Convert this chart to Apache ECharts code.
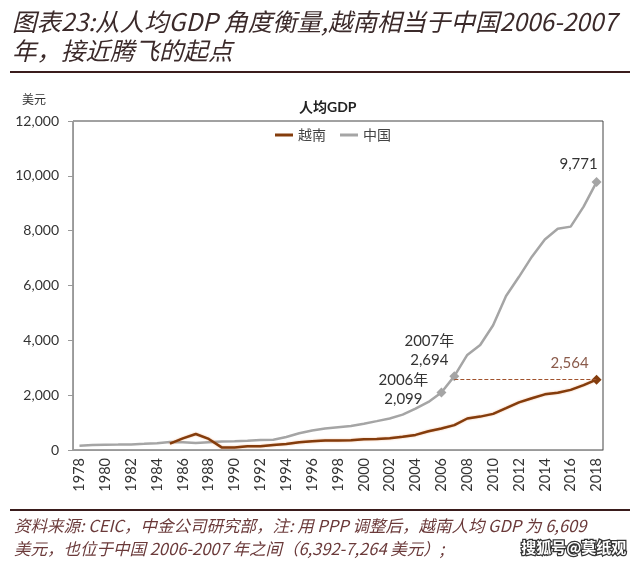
<!DOCTYPE html>
<html>
<head>
<meta charset="utf-8">
<style>
  html, body { margin: 0; padding: 0; background: #fff; }
  #chart { width: 640px; height: 567px; }
</style>
<script src="https://cdn.jsdelivr.net/npm/echarts@6/dist/echarts.min.js"></script>
</head>
<body>
<div id="chart"></div>
<script>
// 人均GDP, 美元
const years = []
for (let y = 1978; y <= 2018; y++) years.push(String(y))

const chinaGdp = [156, 183, 195, 197, 203, 225, 250, 294, 282, 251, 283, 310, 318, 333, 366, 377, 473, 609, 709, 781, 828, 873, 959, 1053, 1149, 1289, 1509, 1753, 2099, 2694, 3468, 3832, 4550, 5618, 6317, 7051, 7679, 8067, 8148, 8879, 9771]
const vietnamGdp = [null, null, null, null, null, null, null, 231, 422, 585, 404, 95, 95, 138, 141, 185, 223, 280, 322, 346, 348, 353, 390, 405, 431, 482, 550, 683, 784, 906, 1149, 1218, 1318, 1525, 1735, 1887, 2030, 2085, 2192, 2366, 2564]
const yTicks = [0, 2000, 4000, 6000, 8000, 10000, 12000]

const brown = '#843c0c'
const gray = '#a5a5a5'
const font = 'Lato, "Noto Sans CJK SC", sans-serif'

const chinaMarked = { '2006': [-38, -3], '2007': [-25, -25], '2018': [-18, -18] }

const chart = echarts.init(document.getElementById('chart'))
chart.setOption({
  animation: false,
  textStyle: { fontFamily: font },
  grid: {
    left: 73, right: 37, top: 121, bottom: 117,
    show: true, borderColor: '#444', borderWidth: 1
  },
  title: {
    text: '人均GDP',
    left: 294, top: 95,
    textStyle: { fontSize: 14, fontWeight: 'bold', color: '#222', fontFamily: font }
  },
  legend: {
    top: 123, left: 270,
    itemWidth: 18, itemHeight: 3, itemGap: 14,
    icon: 'rect',
    textStyle: { fontSize: 14, color: '#444', fontFamily: '"Noto Sans CJK SC"' },
    data: ['越南', '中国']
  },
  xAxis: {
    type: 'category',
    data: years,
    boundaryGap: true,
    axisLine: { lineStyle: { color: '#999' } },
    axisTick: { interval: 1, length: 5, lineStyle: { color: '#999' } },
    axisLabel: { interval: 1, rotate: 90, fontSize: 14.5, color: '#333', margin: 8 }
  },
  yAxis: {
    type: 'value',
    min: 0, max: 12000, interval: 2000,
    axisLine: { show: true, lineStyle: { color: '#999' } },
    axisTick: { show: true, length: 5, lineStyle: { color: '#999' } },
    splitLine: { show: false },
    axisLabel: {
      fontSize: 14, color: '#333', margin: 14,
      formatter: v => v.toLocaleString('en-US')
    }
  },
  series: [
    {
      name: '越南',
      type: 'line',
      data: vietnamGdp.map((v, i) => years[i] === '2018'
        ? { value: v, symbol: 'diamond', symbolSize: 10,
            label: { show: true, position: 'inside', offset: [-27, -17], fontSize: 15, color: '#8a5a4a',
              formatter: p => p.value.toLocaleString('en-US') } }
        : v),
      symbol: 'diamond',
      symbolSize: 0,
      showSymbol: true,
      showAllSymbol: true,
      connectNulls: false,
      color: brown,
      lineStyle: { width: 2.5, color: brown, shadowColor: 'rgba(230,140,80,0.6)', shadowBlur: 2 },
      itemStyle: { color: brown },
      markLine: {
        silent: true,
        symbol: 'none',
        label: { show: false },
        lineStyle: { color: '#a0522d', type: 'dashed', width: 1 },
        data: [[{ coord: ['2007', 2564] }, { coord: ['2018', 2564] }]]
      },
      z: 3
    },
    {
      name: '中国',
      type: 'line',
      data: chinaGdp.map((v, i) => {
        const off = chinaMarked[years[i]]
        if (!off) return v
        return {
          value: v, symbol: 'diamond', symbolSize: 10,
          label: {
            show: true, position: 'inside', offset: off, fontSize: 15, color: '#333', lineHeight: 19,
            formatter: p => (years[i] === '2018' ? '' : years[i] + '年\n') + p.value.toLocaleString('en-US')
          }
        }
      }),
      symbol: 'diamond',
      symbolSize: 0,
      showSymbol: true,
      showAllSymbol: true,
      color: gray,
      lineStyle: { width: 2.5, color: gray },
      itemStyle: { color: gray },
      z: 2
    }
  ],
  graphic: [
    { type: 'text', left: 12, top: 7,
      style: { text: '图表23:从人均GDP 角度衡量,越南相当于中国2006-2007\n年，接近腾飞的起点',
        font: 'italic 24.5px "Noto Sans CJK SC", sans-serif', fill: '#3b2a2a', lineHeight: 29 } },
    { type: 'rect', shape: { x: 10, y: 71, width: 620, height: 2 }, style: { fill: '#3a1c1c' } },
    { type: 'text', left: 22, top: 93,
      style: { text: '美元', font: '12px "Noto Sans CJK SC"', fill: '#333' } },
    { type: 'rect', shape: { x: 10, y: 509, width: 620, height: 2 }, style: { fill: '#3a1c1c' } },
    { type: 'text', left: 14, top: 514,
      style: { text: '资料来源: CEIC，中金公司研究部，注: 用 PPP 调整后，越南人均 GDP 为 6,609\n美元，也位于中国 2006-2007 年之间（6,392-7,264 美元）;',
        font: 'italic 16.5px "Noto Sans CJK SC", sans-serif', fill: '#6b3a3a', lineHeight: 23 } },
    { type: 'text', left: 520, top: 539,
      style: { text: '搜狐号@莫纸观', font: 'bold 15px "Noto Sans CJK SC"', fill: '#fff', stroke: '#333', lineWidth: 2.5 } }
  ]
})
</script>
</body>
</html>
